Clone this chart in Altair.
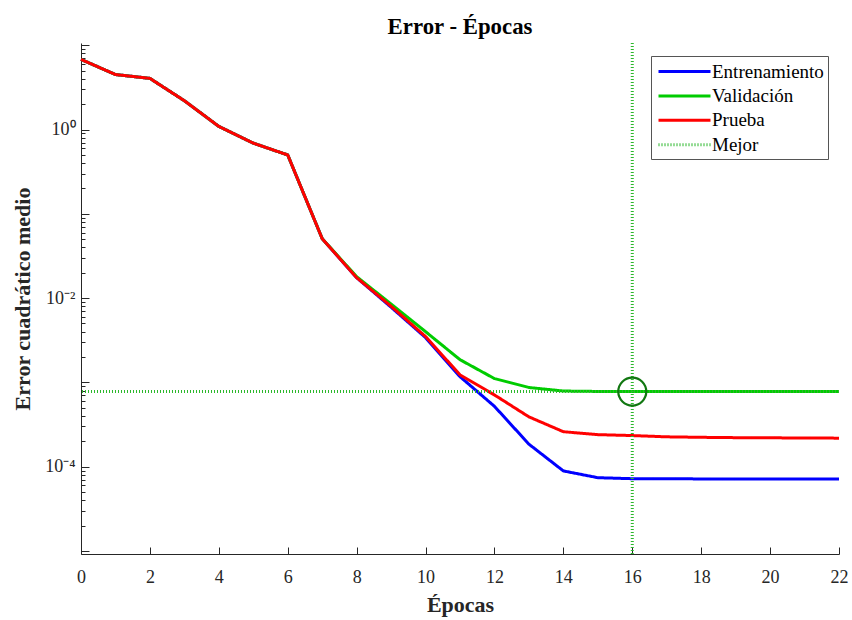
import altair as alt
import pandas as pd

# ---- data ----
epocas = list(range(23))
entrenamiento = [6.8, 4.5, 4.05, 2.2, 1.09, 0.69, 0.50, 0.0508, 0.0175, 0.0078, 0.0034,
                 0.00117, 0.00052, 0.000185, 0.000089, 0.000074, 0.000072, 0.0000718,
                 0.0000716, 0.0000715, 0.0000714, 0.0000713, 0.0000712]
validacion = [6.8, 4.5, 4.05, 2.2, 1.09, 0.69, 0.50, 0.0508, 0.018, 0.0085, 0.0040,
              0.00186, 0.00111, 0.00087, 0.00079, 0.000781, 0.000778, 0.00078,
              0.00078, 0.00078, 0.00078, 0.00078, 0.00078]
prueba = [6.8, 4.5, 4.05, 2.2, 1.09, 0.69, 0.50, 0.0508, 0.0175, 0.0080, 0.0035,
          0.00123, 0.00071, 0.00039, 0.00026, 0.00024, 0.000234, 0.000226,
          0.000223, 0.000221, 0.00022, 0.000219, 0.000218]
series = ["Entrenamiento", "Validación", "Prueba", "Mejor"]
colores = ["#0000FF", "#00CC00", "#FF0000", "#2DB82D"]
anchos = [3, 3, 3, 1]
trazos = [[1, 0], [1, 0], [1, 0], [1, 2]]
mejor_epoca = [16]
mejor_valor = [0.000778]
x_ticks = list(range(0, 23, 2))
y_ticks = [m * 10.0 ** k for k in range(-5, 2) for m in range(1, 10)
           if 9.2e-6 <= m * 10.0 ** k <= 10.65]

FONT = "Liberation Serif"
AX = "#262626"

rows = []
for name, vals in [("Entrenamiento", entrenamiento), ("Validación", validacion), ("Prueba", prueba)]:
    for e, v in zip(epocas, vals):
        rows.append({"epoca": e, "valor": v, "serie": name})
df = pd.DataFrame(rows)
df_v = pd.DataFrame({"epoca": mejor_epoca, "serie": ["Mejor"]})
df_h = pd.DataFrame({"valor": mejor_valor, "serie": ["Mejor"]})
df_c = pd.DataFrame({"epoca": mejor_epoca, "valor": mejor_valor})

leg = alt.Legend(title=None, orient="none", legendX=570, legendY=13,
                 symbolType="M-2.6,0L2.6,0", symbolSize=400, symbolOffset=18,
                 labelFont=FONT, labelFontSize=19, labelColor="black",
                 strokeColor="#555555", fillColor="white", padding=4,
                 rowPadding=2.4, labelOffset=16)

xs = alt.Scale(domain=[0, 22], nice=False, zero=False)
ys = alt.Scale(type="log", domain=[9.2e-6, 10.65], nice=False)

color = alt.Color("serie:N", scale=alt.Scale(domain=series, range=colores), legend=leg)
dash = alt.StrokeDash("serie:N", scale=alt.Scale(domain=series, range=trazos), legend=leg)
width = alt.StrokeWidth("serie:N", scale=alt.Scale(domain=series, range=anchos), legend=leg)

x_axis = alt.Axis(values=x_ticks, title="Épocas", tickSize={"expr": "-7"}, labelPadding=21,
                  grid=False, titlePadding=8, labelFlush=False)
y_axis = alt.Axis(values=y_ticks, title="Error cuadrático medio", grid=False,
                  labelOverlap=False, labelPadding=14, titlePadding=10, labelFlush=False,
                  tickSize={"condition": {"test": "abs(log(datum.value)/LN10 - round(log(datum.value)/LN10)) < 0.001", "value": -8}, "value": -4},
                  labelExpr="abs(datum.value - 1) < 1e-9 ? '10⁰' : abs(datum.value - 0.01) < 1e-11 ? '10⁻²' : abs(datum.value - 0.0001) < 1e-13 ? '10⁻⁴' : ''")

lines = alt.Chart(df).mark_line(strokeJoin="round").encode(
    x=alt.X("epoca:Q", scale=xs, axis=x_axis),
    y=alt.Y("valor:Q", scale=ys, axis=y_axis),
    color=color, strokeDash=dash, strokeWidth=width,
    detail="serie:N",
)

vrule = alt.Chart(df_v).mark_rule().encode(
    x=alt.X("epoca:Q", scale=xs), color=color, strokeDash=dash, strokeWidth=width)
hrule = alt.Chart(df_h).mark_rule().encode(
    y=alt.Y("valor:Q", scale=ys), color=color, strokeDash=dash, strokeWidth=width)
circle = alt.Chart(df_c).mark_point(shape="circle", filled=False, size=784,
                                    color="#117711", strokeWidth=2.2, opacity=1).encode(
    x=alt.X("epoca:Q", scale=xs), y=alt.Y("valor:Q", scale=ys))

chart = alt.layer(lines, vrule, hrule, circle).properties(
    width=758, height=511,
    background="white",
    title=alt.TitleParams("Error - Épocas", font=FONT, fontSize=22.8, fontWeight="bold",
                          color="black", offset=3, dy=5),
    padding={"left": 81, "top": 43, "right": 13, "bottom": 66},
    autosize=alt.AutoSizeParams(type="none"),
).configure_view(stroke=None).configure_axis(
    labelFont=FONT, labelFontSize=18, labelColor=AX,
    titleFont=FONT, titleFontSize=22, titleFontWeight="bold", titleColor=AX,
    domainColor=AX, tickColor=AX, domainWidth=1, tickWidth=1,
)

chart.save("out.html", embed_options={"renderer": "svg", "actions": False})
